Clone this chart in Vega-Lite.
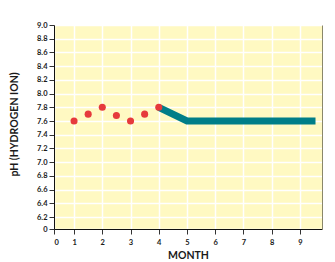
{
  "$schema": "https://vega.github.io/schema/vega-lite/v6.json",
  "width": 268,
  "height": 204,
  "autosize": {"type": "none"},
  "padding": {"left": 54, "top": 25, "right": 13, "bottom": 33},
  "background": "white",
  "config": {
    "view": {"fill": "#fff9c2", "stroke": null},
    "axis": {
      "labelFont": "Lato", "labelFontWeight": "bold", "labelFontSize": 7.5, "labelColor": "#1a1a1a",
      "titleFont": "Lato", "titleFontWeight": "bold", "titleFontSize": 10.5, "titleColor": "#1a1a1a",
      "domainColor": "#111", "domainWidth": 1, "tickColor": "#333", "tickSize": 5, "tickWidth": 1,
      "gridColor": "white", "gridWidth": 1.5, "gridOpacity": 1
    }
  },
  "datasets": {
    "points": [
      {"month": 1, "ph": 7.6},
      {"month": 1.5, "ph": 7.7},
      {"month": 2, "ph": 7.8},
      {"month": 2.5, "ph": 7.68},
      {"month": 3, "ph": 7.6},
      {"month": 3.5, "ph": 7.7},
      {"month": 4, "ph": 7.8}
    ],
    "line": [
      {"month": 4, "ph": 7.8},
      {"month": 5, "ph": 7.6},
      {"month": 9.55, "ph": 7.6}
    ]
  },
  "encoding": {
    "x": {
      "field": "month", "type": "quantitative",
      "scale": {"domain": [0.29, 9.78], "nice": false, "zero": false},
      "axis": {
        "title": "MONTH", "titlePadding": 5,
        "values": [0.29, 1, 2, 3, 4, 5, 6, 7, 8, 9],
        "labelExpr": "datum.value < 0.5 ? '0' : '' + round(datum.value)",
        "labelPadding": 4, "labelOverlap": false, "labelSeparation": 0,
        "grid": true
      }
    }
  },
  "layer": [
    {
      "data": {"name": "line"},
      "mark": {"type": "line", "color": "#007e88", "strokeWidth": 7, "strokeCap": "butt", "strokeJoin": "miter"},
      "encoding": {
        "y": {
          "field": "ph", "type": "quantitative",
          "scale": {"domain": [6.025, 9.0], "nice": false, "zero": false},
          "axis": {
            "title": "pH (HYDROGEN ION)", "titlePadding": 17, "titleY": 99,
            "values": [6.025, 6.2, 6.4, 6.6, 6.8, 7.0, 7.2, 7.4, 7.6, 7.8, 8.0, 8.2, 8.4, 8.6, 8.8, 9.0],
            "labelExpr": "datum.value < 6.1 ? '0' : format(datum.value, '.1f')",
            "labelPadding": 2, "labelOverlap": false
          }
        }
      }
    },
    {
      "data": {"name": "points"},
      "mark": {"type": "circle", "color": "#e63a3c", "opacity": 1, "size": 50},
      "encoding": {
        "y": {
          "field": "ph", "type": "quantitative",
          "axis": {"orient": "right", "title": null, "labels": false, "ticks": false, "grid": false, "domainColor": "#8a876a"}
        }
      }
    }
  ],
  "resolve": {"axis": {"y": "independent"}}
}
